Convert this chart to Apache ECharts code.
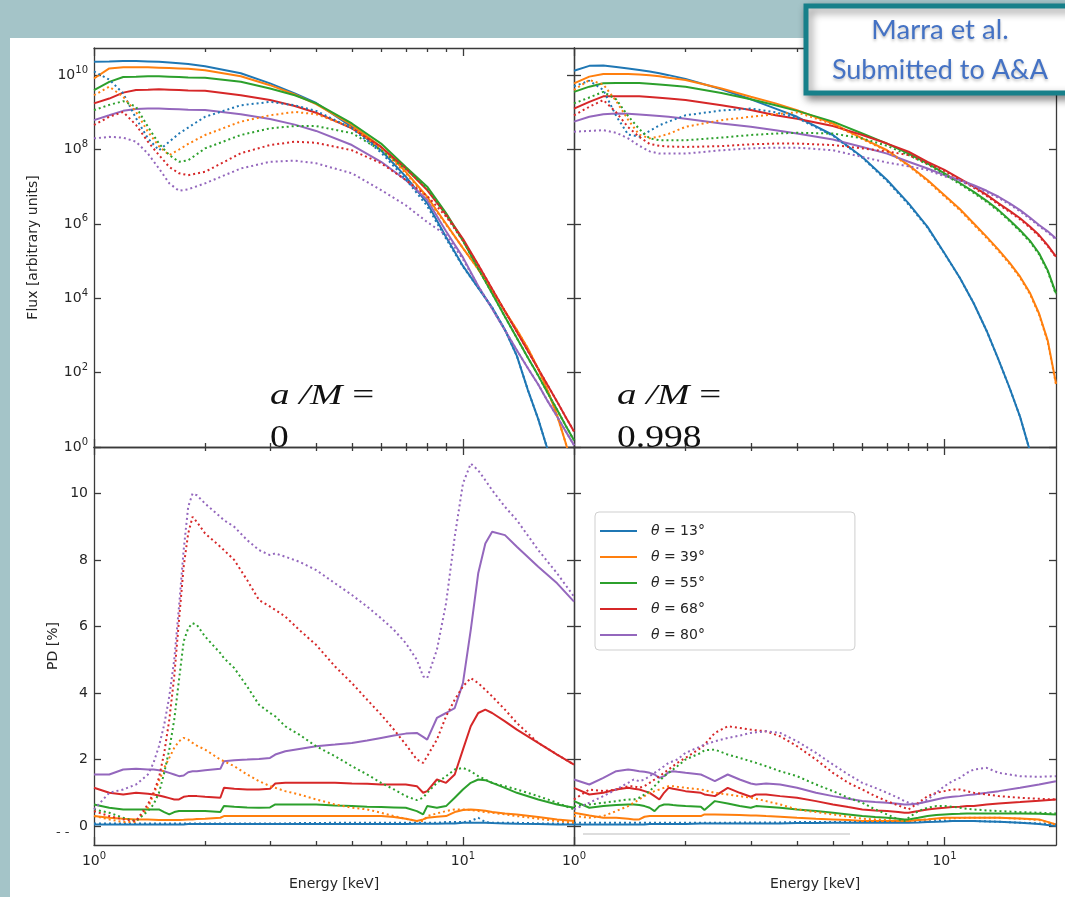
<!DOCTYPE html>
<html><head><meta charset="utf-8">
<script src="https://cdn.jsdelivr.net/npm/echarts@6/dist/echarts.min.js"></script>
<style>html,body{margin:0;padding:0;background:#a4c4c8;}#c{width:1065px;height:897px;}</style>
</head><body><div id="c"></div>
<script>
// ================= DATA =================
const energyFlux = [1,1.1,1.2,1.3,1.4,1.5,1.6,1.7,1.8,2,2.5,3,3.5,4,5,6,7,8,9,10,11,12,13,14,15,16,17,18,19,20];
const energyPD = [1,1.1,1.2,1.3,1.4,1.45,1.5,1.55,1.6,1.65,1.7,1.75,1.8,1.85,1.9,2,2.2,2.25,2.4,2.6,2.8,3,3.1,3.3,3.6,4,4.5,5,5.5,6,6.5,7,7.5,7.8,8,8.5,9,9.5,10,10.5,11,11.5,12,13,14,16,18,20];
const thetaLabels = ['θ = 13°','θ = 39°','θ = 55°','θ = 68°','θ = 80°'];
const spinLabels = ['0','0.998'];
const fluxTickExponents = [0,2,4,6,8,10];
const pdTicks = [0,2,4,6,8,10];
const energyMajorTicks = [1,10];
const energyMinorTicks = [2,3,4,5,6,7,8,9];

// log10(flux), a/M = 0, solid
const fluxS0_13 = [10.36,10.37,10.38,10.38,10.37,10.36,10.34,10.32,10.30,10.24,10.05,9.78,9.51,9.25,8.61,7.98,7.27,6.56,5.65,4.87,4.28,3.75,3.15,2.45,1.53,0.75,-0.1,-1.0,-2.0,-3.0];
const fluxS0_39 = [9.91,10.18,10.21,10.21,10.21,10.20,10.19,10.18,10.17,10.13,9.97,9.73,9.48,9.22,8.66,8.07,7.40,6.73,6.0,5.35,4.78,4.2,3.65,3.15,2.65,2.1,1.5,0.85,0.1,-0.7];
const fluxS0_55 = [9.60,9.82,9.95,9.96,9.97,9.97,9.96,9.95,9.94,9.93,9.82,9.64,9.46,9.24,8.70,8.16,7.53,7.0,6.29,5.55,4.8,4.13,3.5,2.93,2.4,1.92,1.44,1.0,0.57,0.18];
const fluxS0_68 = [9.24,9.37,9.53,9.60,9.61,9.62,9.61,9.60,9.59,9.58,9.46,9.33,9.17,8.99,8.57,8.07,7.49,6.91,6.25,5.6,4.9,4.25,3.65,3.1,2.58,2.1,1.65,1.22,0.8,0.42];
const fluxS0_80 = [8.79,8.92,9.04,9.09,9.10,9.10,9.09,9.08,9.07,9.06,8.95,8.82,8.67,8.50,8.12,7.67,7.18,6.64,5.8,5.1,4.33,3.72,3.14,2.6,2.12,1.68,1.22,0.82,0.42,0.05];
// log10(flux), a/M = 0, dotted
const fluxD0_13 = [10.1,9.88,9.51,8.84,8.30,7.98,8.21,8.43,8.59,8.88,9.19,9.28,9.19,9.04,8.57,7.92,7.2,6.48,5.6,4.85,4.28,3.75,3.15,2.45,1.53,0.75,-0.1,-1.0,-2.0,-3.0];
const fluxD0_39 = [9.46,9.69,9.42,9.01,8.48,8.09,7.85,8.0,8.15,8.39,8.75,8.92,9.01,8.95,8.6,8.02,7.36,6.7,5.98,5.35,4.78,4.2,3.65,3.15,2.65,2.1,1.5,0.85,0.1,-0.7];
const fluxD0_55 = [9.06,9.2,9.3,9.15,8.61,8.16,7.85,7.67,7.71,8.03,8.39,8.57,8.63,8.63,8.44,7.98,7.48,6.95,6.25,5.55,4.8,4.13,3.5,2.93,2.4,1.92,1.44,1.0,0.57,0.18];
const fluxD0_68 = [8.66,8.88,9.01,8.66,8.21,7.85,7.53,7.36,7.31,7.40,7.9,8.12,8.21,8.18,7.98,7.63,7.18,6.75,6.2,5.55,4.9,4.25,3.65,3.1,2.58,2.1,1.65,1.22,0.8,0.42];
const fluxD0_80 = [8.30,8.34,8.32,8.21,7.89,7.49,7.09,6.89,6.93,7.09,7.49,7.67,7.70,7.63,7.36,6.91,6.5,6.05,5.7,5.05,4.33,3.72,3.14,2.6,2.12,1.68,1.22,0.82,0.42,0.05];
// log10(flux), a/M = 0.998, solid
const fluxS1_13 = [10.12,10.25,10.26,10.22,10.18,10.14,10.10,10.05,10.0,9.9,9.62,9.35,9.1,8.88,8.39,7.80,7.18,6.55,5.92,5.21,4.55,3.86,3.12,2.34,1.58,0.81,-0.1,-1.2,-2.5,-4.0];
const fluxS1_39 = [9.78,9.96,10.03,10.03,10.03,10.02,10.0,9.97,9.93,9.87,9.64,9.42,9.24,9.06,8.70,8.30,7.98,7.58,7.18,6.77,6.4,6.01,5.65,5.30,4.95,4.58,4.15,3.59,2.86,1.71];
const fluxS1_55 = [9.55,9.69,9.78,9.79,9.79,9.79,9.77,9.75,9.73,9.69,9.52,9.35,9.19,9.04,8.75,8.43,8.16,7.89,7.63,7.36,7.1,6.86,6.62,6.37,6.1,5.83,5.55,5.21,4.75,4.13];
const fluxS1_68 = [9.10,9.28,9.43,9.43,9.43,9.43,9.41,9.39,9.37,9.33,9.19,9.06,8.92,8.83,8.63,8.39,8.16,7.94,7.67,7.45,7.22,7.0,6.78,6.55,6.35,6.15,5.93,5.70,5.42,5.12];
const fluxS1_80 = [8.75,8.88,8.95,8.97,8.96,8.94,8.92,8.90,8.88,8.83,8.70,8.61,8.52,8.43,8.27,8.07,7.89,7.67,7.49,7.31,7.18,7.04,6.89,6.73,6.55,6.37,6.17,5.97,5.8,5.61];
// log10(flux), a/M = 0.998, dotted
const fluxD1_13 = [9.7,9.85,9.6,8.9,8.4,8.35,8.5,8.65,8.75,8.92,9.05,9.1,9.0,8.85,8.37,7.78,7.15,6.52,5.9,5.2,4.55,3.86,3.12,2.34,1.58,0.81,-0.1,-1.2,-2.5,-4.0];
const fluxD1_39 = [9.6,9.87,9.75,9.3,8.8,8.4,8.3,8.35,8.42,8.61,8.79,8.88,8.95,9.0,8.68,8.28,7.96,7.56,7.15,6.74,6.37,5.98,5.62,5.27,4.92,4.55,4.12,3.56,2.83,1.68];
const fluxD1_55 = [9.24,9.4,9.55,9.35,8.9,8.55,8.3,8.25,8.25,8.25,8.32,8.39,8.43,8.45,8.43,8.3,8.1,7.85,7.6,7.33,7.07,6.83,6.59,6.34,6.07,5.8,5.52,5.18,4.72,4.1];
const fluxD1_68 = [8.92,9.15,9.33,9.0,8.6,8.34,8.15,8.1,8.08,8.07,8.09,8.14,8.16,8.16,8.12,8.03,7.95,7.85,7.62,7.42,7.19,6.97,6.75,6.52,6.32,6.12,5.9,5.67,5.4,5.1];
const fluxD1_80 = [8.48,8.5,8.52,8.45,8.3,8.1,7.95,7.89,7.89,7.89,7.98,8.03,8.05,8.05,7.98,7.80,7.65,7.55,7.45,7.28,7.15,7.0,6.85,6.7,6.52,6.34,6.14,5.94,5.77,5.58];

// PD [%], a/M = 0, solid
const pdS0_13 = [0.05,0.05,0.05,0.05,0.05,0.05,0.05,0.05, 0.05,0.05,0.05,0.05,0.06,0.06,0.06,0.06, 0.06,0.06,0.06,0.06,0.06,0.06,0.06,0.06, 0.06,0.06,0.06,0.06,0.06,0.06,0.06,0.06, 0.07,0.07,0.07,0.07,0.08,0.08,0.1,0.1, 0.1,0.1,0.09,0.08,0.07,0.06,0.05,0.05];
const pdS0_39 = [0.3,0.25,0.22,0.2,0.2,0.19,0.18,0.18, 0.18,0.18,0.18,0.19,0.2,0.2,0.21,0.22, 0.25,0.3,0.3,0.3,0.3,0.3,0.3,0.3, 0.3,0.3,0.3,0.3,0.3,0.3,0.27,0.22, 0.15,0.2,0.25,0.28,0.3,0.42,0.48,0.5, 0.48,0.46,0.42,0.38,0.35,0.27,0.2,0.15];
const pdS0_55 = [0.65,0.55,0.5,0.5,0.5,0.5,0.5,0.42, 0.35,0.42,0.45,0.45,0.45,0.45,0.45,0.45, 0.42,0.6,0.58,0.56,0.55,0.56,0.65,0.65, 0.65,0.65,0.62,0.6,0.58,0.57,0.56,0.55, 0.45,0.35,0.6,0.55,0.6,0.85,1.1,1.3, 1.4,1.38,1.3,1.15,1.0,0.8,0.65,0.55];
const pdS0_68 = [1.15,1.0,0.95,1.0,0.97,0.95,0.92,0.88, 0.84,0.8,0.8,0.88,0.9,0.9,0.9,0.88, 0.85,1.15,1.12,1.1,1.1,1.12,1.28,1.3, 1.3,1.3,1.3,1.28,1.27,1.25,1.25,1.25, 1.2,1.0,1.05,1.4,1.3,1.55,2.3,3.0, 3.4,3.5,3.4,3.15,2.9,2.5,2.15,1.85];
const pdS0_80 = [1.55,1.55,1.7,1.72,1.7,1.7,1.68,1.65, 1.6,1.55,1.5,1.52,1.62,1.65,1.65,1.68, 1.72,1.95,1.98,2.0,2.02,2.05,2.15,2.25, 2.32,2.4,2.45,2.5,2.57,2.65,2.72,2.78, 2.8,2.68,2.6,3.25,3.4,3.55,4.3,5.9, 7.6,8.5,8.85,8.75,8.4,7.8,7.3,6.75];
// PD [%], a/M = 0, dotted
const pdD0_13 = [0.08,0.08,0.08,0.08,0.08,0.08,0.08,0.08, 0.08,0.08,0.08,0.08,0.08,0.08,0.08,0.08, 0.08,0.08,0.08,0.08,0.08,0.08,0.08,0.08, 0.09,0.09,0.1,0.1,0.1,0.1,0.1,0.1, 0.1,0.1,0.1,0.1,0.12,0.12,0.12,0.15, 0.25,0.12,0.1,0.1,0.1,0.08,0.08,0.08];
const pdD0_39 = [0.3,0.2,0.12,0.12,0.55,0.95,1.35,1.75, 2.05,2.35,2.55,2.65,2.6,2.5,2.42,2.3, 2.0,1.95,1.8,1.55,1.35,1.2,1.15,1.05, 0.95,0.8,0.65,0.55,0.5,0.4,0.3,0.22, 0.15,0.15,0.3,0.38,0.45,0.5,0.5,0.48, 0.45,0.42,0.4,0.35,0.3,0.22,0.15,0.1];
const pdD0_55 = [0.5,0.4,0.25,0.15,0.45,0.65,1.0,1.6, 2.3,3.2,4.4,5.55,5.95,6.1,6.05,5.7, 5.2,5.05,4.75,4.2,3.65,3.4,3.3,3.0, 2.75,2.4,2.1,1.8,1.55,1.3,1.1,0.9, 0.78,0.85,1.0,1.3,1.5,1.7,1.75,1.65, 1.5,1.4,1.3,1.2,1.1,0.9,0.7,0.5];
const pdD0_68 = [0.45,0.3,0.2,0.15,0.65,1.0,1.45,2.2, 3.2,4.5,6.2,7.8,8.8,9.3,9.15,8.8, 8.4,8.3,8.0,7.4,6.8,6.6,6.5,6.3, 5.9,5.45,4.8,4.3,3.8,3.35,2.9,2.45, 2.0,1.9,2.1,2.6,3.3,3.8,4.2,4.45, 4.3,4.1,3.9,3.5,3.1,2.5,2.15,1.85];
const pdD0_80 = [0.5,1.0,1.1,1.25,1.55,1.9,2.4,3.05, 3.9,5.0,6.6,8.3,9.6,10.0,9.95,9.7, 9.3,9.2,9.0,8.6,8.3,8.15,8.2,8.1, 7.95,7.7,7.3,6.95,6.6,6.25,5.9,5.5, 5.0,4.5,4.45,5.3,6.7,8.7,10.3,10.9, 10.7,10.4,10.1,9.6,9.2,8.3,7.6,6.9];
// PD [%], a/M = 0.998, solid
const pdS1_13 = [0.05,0.05,0.05,0.05,0.05,0.05,0.05,0.05, 0.06,0.06,0.06,0.06,0.06,0.06,0.06,0.06, 0.08,0.08,0.08,0.08,0.08,0.08,0.08,0.08, 0.08,0.09,0.09,0.1,0.1,0.1,0.1,0.1, 0.1,0.1,0.1,0.11,0.12,0.13,0.14,0.15, 0.15,0.15,0.15,0.14,0.13,0.1,0.06,0.0];
const pdS1_39 = [0.4,0.32,0.25,0.25,0.22,0.2,0.2,0.28, 0.3,0.3,0.3,0.3,0.3,0.3,0.3,0.3, 0.3,0.35,0.35,0.34,0.33,0.32,0.32,0.3, 0.28,0.25,0.22,0.2,0.18,0.15,0.15,0.15, 0.15,0.15,0.15,0.18,0.2,0.23,0.25,0.25, 0.25,0.25,0.25,0.25,0.25,0.23,0.2,0.05];
const pdS1_55 = [0.75,0.55,0.6,0.63,0.65,0.65,0.63,0.6, 0.55,0.45,0.6,0.65,0.65,0.63,0.62,0.6, 0.58,0.48,0.75,0.68,0.6,0.55,0.6,0.58, 0.55,0.5,0.45,0.4,0.35,0.3,0.27,0.25, 0.22,0.2,0.2,0.25,0.3,0.33,0.35,0.36, 0.37,0.38,0.38,0.38,0.38,0.38,0.37,0.35];
const pdS1_68 = [1.15,0.95,1.0,1.1,1.15,1.12,1.1,1.05, 1.0,0.9,0.8,1.0,1.15,1.12,1.1,1.05, 1.0,0.95,0.9,1.15,1.0,0.88,0.95,0.95, 0.9,0.85,0.75,0.65,0.57,0.5,0.47,0.45, 0.42,0.4,0.4,0.45,0.5,0.53,0.55,0.57, 0.58,0.6,0.6,0.65,0.68,0.72,0.76,0.8];
const pdS1_80 = [1.4,1.25,1.45,1.65,1.7,1.68,1.65,1.63, 1.6,1.55,1.45,1.5,1.62,1.65,1.63,1.6, 1.55,1.5,1.35,1.55,1.4,1.28,1.25,1.28, 1.25,1.15,1.0,0.9,0.82,0.75,0.72,0.7, 0.67,0.65,0.65,0.68,0.74,0.8,0.85,0.88, 0.9,0.93,0.95,1.0,1.05,1.15,1.25,1.35];
// PD [%], a/M = 0.998, dotted
const pdD1_13 = [0.1,0.1,0.1,0.1,0.1,0.1,0.1,0.1, 0.1,0.1,0.1,0.1,0.1,0.1,0.1,0.1, 0.1,0.1,0.1,0.1,0.11,0.11,0.11,0.11, 0.11,0.12,0.12,0.12,0.12,0.12,0.12,0.12, 0.12,0.12,0.12,0.13,0.14,0.15,0.15,0.15, 0.15,0.15,0.15,0.14,0.13,0.1,0.08,0.05];
const pdD1_39 = [0.3,0.25,0.3,0.45,0.6,0.7,0.8,0.9, 1.0,1.05,1.1,1.15,1.2,1.2,1.18,1.15, 1.1,1.08,1.0,0.95,0.9,0.85,0.82,0.75, 0.65,0.5,0.42,0.35,0.28,0.22,0.2,0.18, 0.16,0.15,0.15,0.18,0.2,0.21,0.22,0.23, 0.24,0.25,0.25,0.25,0.25,0.22,0.18,0.05];
const pdD1_55 = [0.6,0.65,0.7,0.75,0.8,0.8,0.85,0.95, 1.05,1.2,1.35,1.5,1.6,1.7,1.8,2.0, 2.2,2.28,2.3,2.15,2.05,1.95,1.9,1.8, 1.65,1.5,1.25,1.05,0.85,0.7,0.5,0.35, 0.2,0.15,0.25,0.45,0.55,0.6,0.6,0.58, 0.55,0.52,0.5,0.47,0.45,0.42,0.4,0.38];
const pdD1_68 = [0.8,1.1,1.05,1.1,1.2,1.2,1.15,1.2, 1.3,1.4,1.5,1.6,1.7,1.8,1.9,2.05, 2.35,2.45,2.8,3.0,2.95,2.9,2.88,2.85, 2.7,2.4,2.0,1.6,1.3,1.1,0.9,0.75, 0.62,0.55,0.5,0.7,0.9,1.0,1.05,1.1, 1.1,1.05,1.0,0.95,0.9,0.85,0.82,0.8];
const pdD1_80 = [0.5,0.7,0.9,1.1,1.3,1.4,1.35,1.4, 1.5,1.6,1.7,1.8,1.9,1.95,2.0,2.2, 2.4,2.45,2.55,2.65,2.72,2.8,2.82,2.85, 2.8,2.55,2.2,1.85,1.55,1.3,1.15,1.0, 0.85,0.75,0.7,0.65,0.8,1.0,1.2,1.35, 1.45,1.6,1.7,1.75,1.6,1.5,1.48,1.5];

// ================= STYLE / LAYOUT =================
const COLORS = ['#1f77b4','#ff7f0e','#2ca02c','#d62728','#9467bd'];
const FONT = 'DejaVu Sans';
const AX = '#3a3a3a';
const TXT = '#262626';
const GRIDS = [
  {left:94, top:48, width:480, height:399},
  {left:574, top:48, width:482, height:399},
  {left:94, top:447, width:480, height:398},
  {left:574, top:447, width:482, height:398}
];
const panels = [
  {energy:energyFlux, kind:'flux', solid:[fluxS0_13,fluxS0_39,fluxS0_55,fluxS0_68,fluxS0_80], dotted:[fluxD0_13,fluxD0_39,fluxD0_55,fluxD0_68,fluxD0_80]},
  {energy:energyFlux, kind:'flux', solid:[fluxS1_13,fluxS1_39,fluxS1_55,fluxS1_68,fluxS1_80], dotted:[fluxD1_13,fluxD1_39,fluxD1_55,fluxD1_68,fluxD1_80]},
  {energy:energyPD, kind:'pd', solid:[pdS0_13,pdS0_39,pdS0_55,pdS0_68,pdS0_80], dotted:[pdD0_13,pdD0_39,pdD0_55,pdD0_68,pdD0_80]},
  {energy:energyPD, kind:'pd', solid:[pdS1_13,pdS1_39,pdS1_55,pdS1_68,pdS1_80], dotted:[pdD1_13,pdD1_39,pdD1_55,pdD1_68,pdD1_80]}
];

const supRich = {
  b:{fontSize:14, fontFamily:FONT, color:TXT, lineHeight:20},
  s:{fontSize:10, fontFamily:FONT, color:TXT, lineHeight:10, verticalAlign:'top'}
};
const powLabel = n => '{b|10}{s|' + n + '}';
const lineS = {color:AX, width:1.3};
const nameStyle = {fontFamily:FONT, fontSize:14, color:TXT};

function xAxis(g, pos, ticks, len, showLine, showLabel, name) {
  return {
    type:'log', logBase:10, gridIndex:g, min:1, max:20, position:pos,
    axisLine:{show:showLine, onZero:false, lineStyle:lineS},
    axisTick:{show:true, inside:true, length:len, customValues:ticks, lineStyle:lineS},
    axisLabel:{show:showLabel, customValues:energyMajorTicks, margin:6,
      formatter:v => powLabel(Math.round(Math.log10(v))), rich:supRich},
    splitLine:{show:false}, minorTick:{show:false}, minorSplitLine:{show:false},
    name:name||'', nameLocation:'middle', nameGap:32, nameTextStyle:nameStyle, silent:true
  };
}
function yAxis(g, pos, kind, showLabel, name) {
  const flux = kind === 'flux';
  const ticks = flux ? fluxTickExponents : pdTicks;
  return {
    type:'value', gridIndex:g, position:pos,
    min: flux ? 0 : -0.57, max: flux ? 10.73 : 11.4,
    axisLine:{show:true, onZero:false, lineStyle:lineS},
    axisTick:{show:true, inside:true, length:7, customValues:ticks, lineStyle:lineS},
    axisLabel:{show:showLabel, customValues:ticks, margin:6, fontFamily:FONT, fontSize:14, color:TXT,
      formatter: flux ? (v => powLabel(v)) : (v => String(v)), rich:supRich},
    splitLine:{show:false},
    name:name||'', nameLocation:'middle', nameRotate:90, nameGap: flux ? 54 : 34, nameTextStyle:nameStyle, silent:true
  };
}

const xAxes = [], yAxes = [], series = [];
panels.forEach((p, g) => {
  const bottomPanel = g >= 2, leftPanel = (g % 2 === 0);
  xAxes.push(xAxis(g, 'bottom', energyMajorTicks, 8, true, bottomPanel, bottomPanel ? 'Energy [keV]' : ''));
  xAxes.push(xAxis(g, 'bottom', energyMinorTicks, 4, false, false));
  xAxes.push(xAxis(g, 'top', energyMajorTicks, 8, true, false));
  xAxes.push(xAxis(g, 'top', energyMinorTicks, 4, false, false));
  yAxes.push(yAxis(g, 'left', p.kind, leftPanel, leftPanel ? (p.kind === 'flux' ? 'Flux [arbitrary units]' : 'PD [%]') : ''));
  yAxes.push(yAxis(g, 'right', p.kind, false));
  const mk = (vals, k, dotted) => ({
    type:'line', name: dotted ? thetaLabels[k] + ' dotted' : thetaLabels[k],
    xAxisIndex:4*g, yAxisIndex:2*g,
    data: p.energy.map((e, i) => [e, vals[i]]),
    symbol:'none', showSymbol:false, clip:true, silent:true, animation:false,
    lineStyle:{color:COLORS[k], width:2, type: dotted ? [2,3] : 'solid', cap:'butt'},
    itemStyle:{color:COLORS[k]}, z: dotted ? 3 : 2
  });
  p.solid.forEach((v, k) => series.push(mk(v, k, false)));
  p.dotted.forEach((v, k) => series.push(mk(v, k, true)));
});

const spinText = (x, label) => ([
  {type:'text', z:101, silent:true, x:x, y:396, scaleX:1.3,
   style:{text:'{i|a /M} =', fontSize:30, fontFamily:'Liberation Serif', fill:'#111', verticalAlign:'middle',
     rich:{i:{fontStyle:'italic', fontSize:30, fontFamily:'Liberation Serif', fill:'#111'}}}},
  {type:'text', z:101, silent:true, x:x, y:438, scaleX:1.25, scaleY:1.08,
   style:{text:label, fontSize:30, fontFamily:'Liberation Serif', fill:'#111', verticalAlign:'middle'}}
]);

const option = {
  backgroundColor:'#a4c4c8',
  animation:false,
  textStyle:{fontFamily:FONT},
  grid: GRIDS.map(b => Object.assign({containLabel:false, show:false}, b)),
  xAxis: xAxes,
  yAxis: yAxes,
  series: series,
  legend:{
    data: thetaLabels, orient:'vertical', left:595, top:512, selectedMode:false,
    itemWidth:37, itemHeight:14, itemGap:12, padding:[12,150,8,4],
    itemStyle:{opacity:0},
    backgroundColor:'#ffffff', borderColor:'#cfcfcf', borderWidth:1, borderRadius:4,
    textStyle:{fontFamily:FONT, fontSize:14, color:TXT,
      rich:{i:{fontStyle:'italic', fontFamily:FONT, fontSize:14, color:TXT}}},
    formatter: name => '  ' + name.replace('θ', '{i|θ}')
  },
  graphic:{elements:[
    {type:'rect', z:-10, silent:true, shape:{x:10, y:38, width:1055, height:859}, style:{fill:'#ffffff'}},
    {type:'line', z:50, silent:true, shape:{x1:583, y1:834, x2:850, y2:834}, style:{stroke:'#d2d2d2', lineWidth:1.5}},
    {type:'text', z:50, silent:true, x:56, y:833, style:{text:'- -', fontSize:13, fontFamily:FONT, fill:'#333', verticalAlign:'middle'}},
    ...spinText(270, spinLabels[0]),
    ...spinText(617, spinLabels[1]),
    {type:'rect', z:100, silent:true, shape:{x:806, y:6, width:275, height:87},
     style:{fill:'#ffffff', stroke:'#16808a', lineWidth:5, shadowBlur:8, shadowColor:'rgba(0,0,0,0.45)', shadowOffsetX:3, shadowOffsetY:4}},
    {type:'text', z:101, silent:true, x:940, y:30, style:{text:'Marra et al.', fontSize:27.5, fontFamily:'Lato', fill:'#4472c4', align:'center', verticalAlign:'middle', textShadowBlur:3, textShadowColor:'rgba(0,0,0,0.25)', textShadowOffsetY:2}},
    {type:'text', z:101, silent:true, x:940, y:70, style:{text:'Submitted to A&A', fontSize:27, fontFamily:'Lato', fill:'#4472c4', align:'center', verticalAlign:'middle', textShadowBlur:3, textShadowColor:'rgba(0,0,0,0.25)', textShadowOffsetY:2}}
  ]}
};
const chart = echarts.init(document.getElementById('c'), null, {renderer:'canvas'});
chart.setOption(option);
</script>
</body></html>
